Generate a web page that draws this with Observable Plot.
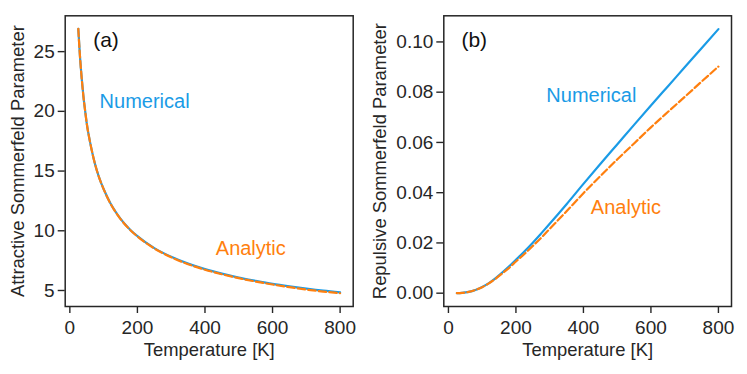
<!DOCTYPE html>
<html><head><meta charset="utf-8">
<script src="https://cdn.jsdelivr.net/npm/d3@7"></script>
<script src="https://cdn.jsdelivr.net/npm/@observablehq/plot@0.6"></script>
<style>
html,body{margin:0;padding:0;background:#fff;}
#wrap{display:flex;width:747px;height:374px;overflow:hidden;}
#wrap svg{display:block;}
</style></head><body><div id="wrap"></div>
<script>
// ---- data ----
const temperatureA = [25,30,35,40,45,50,60,70,80,90,100,120,140,160,180,200,250,300,350,400,450,500,550,600,650,700,750,800];
const attractiveNumerical = [26.9,24.6,22.8,21.3,20.1,19.0,17.4,16.1,15.05,14.2,13.5,12.3,11.4,10.65,10.05,9.55,8.55,7.82,7.25,6.79,6.41,6.08,5.81,5.56,5.35,5.16,4.99,4.85];
const attractiveAnalytic  = [26.9,24.6,22.8,21.3,20.1,19.0,17.4,16.1,15.04,14.19,13.49,12.28,11.38,10.63,10.03,9.53,8.52,7.78,7.2,6.74,6.36,6.03,5.75,5.5,5.28,5.08,4.91,4.77];

const temperatureB = [25,40,60,80,100,120,140,160,180,200,225,250,275,300,350,400,450,500,550,600,650,700,750,800];
const repulsiveNumerical = [0,0.0001,0.0005,0.0013,0.0025,0.004,0.006,0.0083,0.0107,0.0133,0.0166,0.0201,0.0238,0.0276,0.0354,0.0435,0.0514,0.0592,0.067,0.0747,0.0823,0.0899,0.0975,0.1051];
const repulsiveAnalytic  = [0,0.0001,0.0005,0.0013,0.0024,0.0039,0.0058,0.0079,0.0101,0.0126,0.0156,0.0188,0.0221,0.0256,0.0326,0.0398,0.0466,0.0532,0.0596,0.066,0.0721,0.0781,0.0842,0.0902];

const xTicks = [0,200,400,600,800];
const yTicksA = [5,10,15,20,25];
const yTicksB = [0,0.02,0.04,0.06,0.08,0.10];
const seriesNames = ["Numerical","Analytic"];
const panelLabels = ["(a)","(b)"];
const xLabel = "Temperature [K]";
const yLabels = ["Attractive Sommerfeld Parameter","Repulsive Sommerfeld Parameter"];

// ---- styling ----
const FONT = "'Liberation Sans', Arial, Helvetica, sans-serif";
const INK = "#262626";
const BLUE = "#1a9be6";
const ORANGE = "#ff7f0e";

function panel(o) {
  const rows = o.temps.map((t, i) => ({t, num: o.num[i], ana: o.ana[i]}));
  return Plot.plot({
    width: o.width, height: 374,
    marginLeft: o.marginLeft, marginRight: o.marginRight, marginTop: 15.3, marginBottom: 68,
    style: {fontFamily: FONT, fontSize: "19px", color: INK, background: "#fff", overflow: "visible"},
    x: {domain: [-13.75, 838.75]},
    y: {domain: o.yDomain},
    marks: [
      Plot.line(rows, {x: "t", y: "num", stroke: BLUE, strokeWidth: 2.2, curve: "monotone-x"}),
      Plot.line(rows, {x: "t", y: "ana", stroke: ORANGE, strokeWidth: 2.2, strokeDasharray: "7.4,3.2", curve: "monotone-x"}),
      Plot.frame({stroke: INK, strokeWidth: 1.5}),
      Plot.axisX({ticks: xTicks, tickSize: 7, tickPadding: 6.5, strokeWidth: 1.4, label: null, fontSize: 19, tickFormat: d => String(d)}),
      Plot.axisY({ticks: o.yTicks, tickSize: 7, tickPadding: 3.5, strokeWidth: 1.4, label: null, fontSize: 19, tickFormat: o.yFormat}),
      Plot.text([xLabel], {frameAnchor: "bottom", dy: 49, lineAnchor: "bottom", fontSize: 18.4, fill: INK}),
      Plot.text([o.yLabel], {frameAnchor: "left", rotate: -90, dx: o.yLabelDx, lineAnchor: "top", textAnchor: "middle", fontSize: 18.4, fill: INK}),
      Plot.text([o.panelLabel], {x: [o.panelPos[0]], y: [o.panelPos[1]], textAnchor: "start", lineAnchor: "bottom", fontSize: 21, fill: "#111"}),
      Plot.text([seriesNames[0]], {x: [o.numPos[0]], y: [o.numPos[1]], textAnchor: "start", lineAnchor: "bottom", fontSize: 20, fill: BLUE}),
      Plot.text([seriesNames[1]], {x: [o.anaPos[0]], y: [o.anaPos[1]], textAnchor: "start", lineAnchor: "bottom", fontSize: 20, fill: ORANGE})
    ]
  });
}

const wrap = document.getElementById("wrap");
wrap.append(panel({
  width: 370, marginLeft: 64.7, marginRight: 17.3,
  temps: temperatureA, num: attractiveNumerical, ana: attractiveAnalytic,
  yDomain: [3.66, 28.0], yTicks: yTicksA, yFormat: d => String(d),
  yLabel: yLabels[0], yLabelDx: -54.7,
  panelLabel: panelLabels[0], panelPos: [69, 25.37],
  numPos: [88, 20.25], anaPos: [432, 8.0]
}));
wrap.append(panel({
  width: 377, marginLeft: 73.3, marginRight: 16,
  temps: temperatureB, num: repulsiveNumerical, ana: repulsiveAnalytic,
  yDomain: [-0.0053, 0.1104], yTicks: yTicksB, yFormat: d3.format(".2f"),
  yLabel: yLabels[1], yLabelDx: -70.6,
  panelLabel: panelLabels[1], panelPos: [38.5, 0.0981],
  numPos: [290, 0.0759], anaPos: [422, 0.0315]
}));
</script></body></html>
